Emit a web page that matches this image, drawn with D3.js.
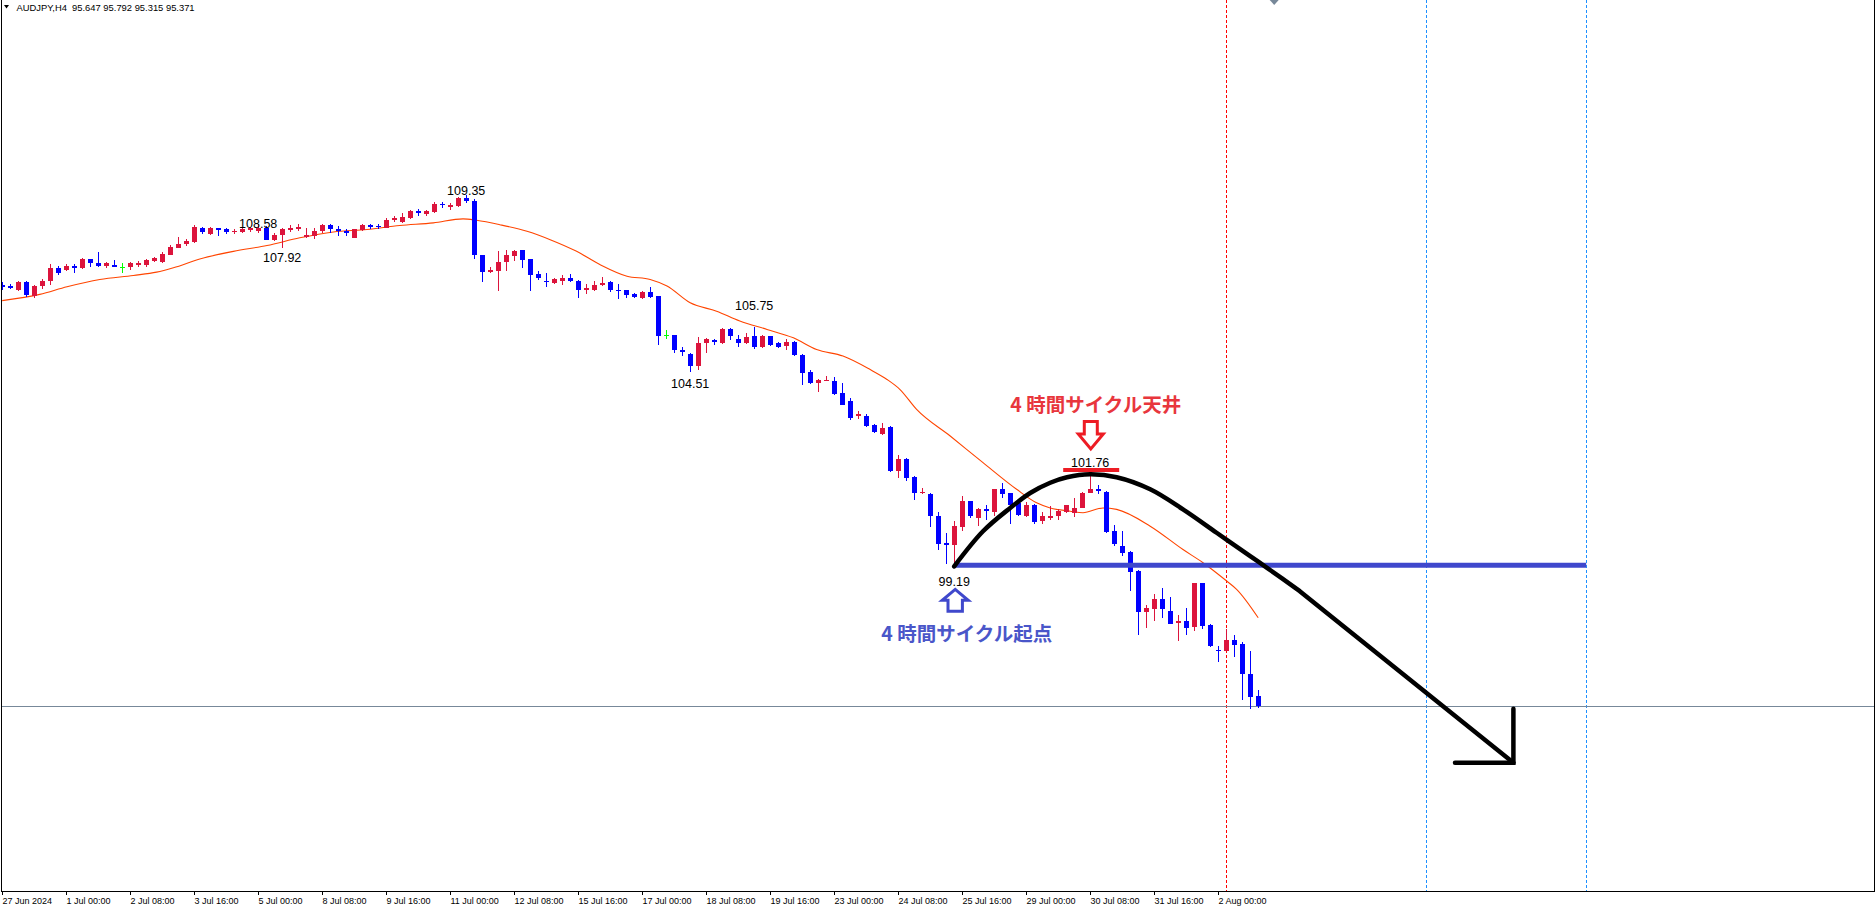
<!DOCTYPE html>
<html><head><meta charset="utf-8">
<script src="https://cdn.jsdelivr.net/npm/d3@7"></script>
<style>html,body{margin:0;padding:0;background:#fff;overflow:hidden}</style>
</head><body><svg id="chart" width="1875" height="907"></svg>
<script>
// ---------------- DATA ----------------
const symbol = "AUDJPY";
const timeframe = "H4";
// H4 candles, first bar 27 Jun 2024 16:00
const opens = [106.91,106.88,106.76,106.99,106.61,106.86,107.00,107.35,107.32,107.41,
107.35,107.61,107.50,107.43,107.45,107.40,107.39,107.45,107.45,107.55,
107.54,107.73,107.92,108.01,108.07,108.46,108.29,108.45,108.44,108.36,
108.36,108.40,108.38,108.45,108.14,108.28,108.40,108.42,108.21,108.24,
108.39,108.54,108.44,108.37,108.19,108.40,108.54,108.51,108.46,108.69,
108.63,108.72,108.92,108.83,108.89,109.12,109.03,109.06,109.27,109.21,
107.71,107.25,107.28,107.52,107.69,107.85,107.60,107.19,107.02,106.96,
107.02,107.08,107.02,106.77,106.76,106.89,106.98,106.77,106.75,106.64,
106.53,106.70,106.59,105.54,105.52,105.13,105.02,104.67,105.31,105.40,
105.31,105.68,105.43,105.31,105.50,105.19,105.50,105.30,105.22,105.33,
104.99,104.52,104.22,104.27,104.26,103.93,103.72,103.30,103.32,103.06,
102.82,103.00,101.80,102.12,101.64,101.19,101.16,100.56,99.82,99.77,
100.26,100.97,100.52,100.75,100.67,101.30,101.19,100.93,100.56,100.88,
100.43,100.52,100.56,100.68,100.66,100.79,101.20,101.30,101.23,100.15,
99.76,99.58,99.06,97.93,98.03,98.30,97.96,97.64,97.68,97.52,
98.72,97.57,96.91,96.87,97.16,97.05,96.23,95.647];
const highs = [106.98,106.92,107.01,107.01,106.90,107.05,107.46,107.41,107.48,107.46,
107.64,107.62,107.81,107.52,107.57,107.50,107.53,107.55,107.62,107.67,
107.80,107.99,108.22,108.16,108.54,108.48,108.49,108.46,108.45,108.44,
108.49,108.48,108.58,108.51,108.33,108.46,108.55,108.56,108.46,108.45,
108.57,108.57,108.51,108.44,108.44,108.56,108.58,108.56,108.74,108.78,
108.86,108.95,108.98,108.95,109.16,109.17,109.15,109.32,109.35,109.26,
107.72,107.40,107.82,107.85,107.87,107.87,107.61,107.27,107.23,107.09,
107.16,107.20,107.03,106.93,107.02,107.11,107.00,106.93,106.77,106.68,
106.73,106.83,106.61,105.66,105.54,105.20,105.04,105.48,105.45,105.43,
105.71,105.71,105.54,105.59,105.75,105.52,105.51,105.33,105.42,105.36,
105.00,104.56,104.31,104.40,104.37,104.22,103.81,103.44,103.35,103.09,
103.12,103.03,102.25,102.16,101.66,101.34,101.19,100.67,100.09,100.43,
101.13,100.98,100.79,100.86,101.31,101.48,101.21,100.98,100.95,100.91,
100.67,100.84,100.75,100.88,101.07,101.22,101.76,101.43,101.25,100.32,
100.15,99.61,99.10,98.14,98.42,98.61,98.35,97.87,98.05,98.72,
98.72,97.60,97.02,97.46,97.30,97.12,96.87,95.792];
const lows = [106.76,106.79,106.74,106.57,106.54,106.79,106.91,107.18,107.27,107.23,
107.34,107.38,107.40,107.36,107.39,107.23,107.32,107.40,107.40,107.53,
107.50,107.71,107.90,107.97,108.05,108.29,108.27,108.25,108.30,108.30,
108.31,108.36,108.33,108.12,108.10,107.92,108.35,108.39,108.19,108.15,
108.33,108.33,108.24,108.24,108.18,108.37,108.42,108.42,108.45,108.63,
108.60,108.71,108.80,108.80,108.87,109.01,108.96,109.04,109.15,107.61,
106.98,107.23,106.73,107.28,107.55,107.37,106.73,107.03,106.85,106.93,
106.91,106.98,106.54,106.66,106.73,106.86,106.71,106.52,106.55,106.55,
106.52,106.55,105.25,105.42,105.04,104.95,104.51,104.58,105.04,105.26,
105.29,105.39,105.20,105.27,105.15,105.17,105.22,105.18,105.13,104.95,
104.15,104.19,103.96,104.26,103.88,103.60,103.21,103.23,103.00,102.85,
102.80,101.77,101.61,101.52,101.02,101.18,100.26,99.65,99.25,99.19,
100.15,100.52,100.29,100.47,100.56,101.05,100.36,100.56,100.55,100.36,
100.36,100.47,100.47,100.66,100.55,100.78,101.19,101.16,100.09,99.74,
99.47,98.51,97.32,97.49,97.69,97.78,97.60,97.14,97.32,97.41,
97.46,96.98,96.56,96.86,96.70,95.54,95.27,95.315];
const closes = [106.84,106.82,106.99,106.63,106.88,107.02,107.35,107.24,107.41,107.36,
107.61,107.50,107.42,107.49,107.40,107.40,107.49,107.49,107.57,107.63,
107.76,107.95,108.03,108.11,108.48,108.36,108.45,108.40,108.36,108.38,
108.44,108.45,108.45,108.14,108.28,108.42,108.45,108.48,108.26,108.39,
108.53,108.42,108.37,108.31,108.42,108.54,108.49,108.49,108.69,108.72,
108.76,108.92,108.86,108.92,109.12,109.08,109.10,109.29,109.19,107.71,
107.25,107.32,107.53,107.71,107.82,107.58,107.16,107.09,107.00,107.07,
107.09,107.00,106.76,106.82,106.91,106.96,106.76,106.75,106.63,106.56,
106.70,106.57,105.50,105.54,105.11,105.06,104.67,105.31,105.41,105.33,
105.68,105.50,105.31,105.48,105.20,105.50,105.25,105.20,105.33,104.98,
104.49,104.22,104.29,104.30,103.90,103.62,103.26,103.35,103.03,102.87,
102.99,101.80,102.12,101.61,101.20,101.22,100.56,99.79,99.78,100.29,
100.97,100.58,100.75,100.70,101.30,101.16,100.88,100.59,100.88,100.40,
100.56,100.58,100.70,100.86,100.79,101.20,101.30,101.25,100.13,99.79,
99.56,99.03,97.93,98.05,98.30,98.03,97.62,97.68,97.50,98.72,
97.55,97.00,96.87,97.16,97.03,96.23,95.61,95.371];

// time-axis labels, one every 8 bars starting at bar 0
const tickLabels = ["27 Jun 2024","1 Jul 00:00","2 Jul 08:00","3 Jul 16:00","5 Jul 00:00",
"8 Jul 08:00","9 Jul 16:00","11 Jul 00:00","12 Jul 08:00","15 Jul 16:00","17 Jul 00:00",
"18 Jul 08:00","19 Jul 16:00","23 Jul 00:00","24 Jul 08:00","25 Jul 16:00","29 Jul 00:00",
"30 Jul 08:00","31 Jul 16:00","2 Aug 00:00"];
const tickStep = 8;

// moving average line
const maBars = [0,4.7,8.1,12.2,16.4,19.3,21.4,24.7,28.9,33.1,37.2,41.4,45.6,49.7,53.9,57.6,59.3,62.2,
65.6,68.5,71.8,74.7,78.1,81,83.1,86,89.3,92.2,95.6,98.9,101.8,105.1,108.5,110.6,112.2,114.3,
118.5,122.6,126.8,129.3,131,133.5,135.1,137.6,139.3,143.5,147.6,150.1,153.1,154.3,157];
const maValues = [106.47,106.64,106.85,107.05,107.16,107.25,107.37,107.61,107.82,107.98,108.19,108.35,108.42,108.53,108.60,108.71,108.67,108.55,
108.37,108.14,107.82,107.46,107.14,107.05,106.87,106.41,106.18,105.91,105.68,105.45,105.13,104.95,104.58,104.31,104.04,103.49,
102.76,102.03,101.30,100.93,100.79,100.70,100.66,100.79,100.75,100.29,99.65,99.29,98.78,98.56,97.78];

// swing high / low price labels
const swingBars = [58, 32, 94, 136, 35, 86, 119];
const swingValues = [109.35, 108.58, 105.75, 101.76, 107.92, 104.51, 99.19];

// cycle annotation: start (low) and top
const cycleStartBar = 119, cycleStartPrice = 99.19;
const cycleTopBar = 136, cycleTopPrice = 101.76;
const cycleLineEndBar = 198;
const cycleStartLabel = "4 時間サイクル起点";
const cycleTopLabel = "4 時間サイクル天井";

// hand-drawn projection curve
const curveBars = [119,122.6,126,128.5,131,133.1,136,139.3,143.5,147.6,151.8,156,158.1,162.2];
const curvePrices = [99.19,100.15,100.79,101.20,101.48,101.63,101.71,101.63,101.30,100.75,100.11,99.47,99.15,98.51];
const tailBars = [162.2, 188.9];
const tailPrices = [98.51, 93.81];
const arrowHeadBars = [181.6, 188.9, 188.9];
const arrowHeadPrices = [93.81, 93.81, 95.29];

// vertical marker lines
const redVLineBars = [153];
const blueVLineBars = [178, 198];
const topMarkerBar = 159;

// ---------------- CHART ----------------
const W = 1875, H = 907, plotBottom = 891, plotLeft = 1, plotRight = 1874;
const svg = d3.select("#chart");
const x = d3.scaleLinear().domain([0, 200]).range([2.2, 1602.2]);
const y = d3.scaleLinear().domain([90.295, 114.706]).range([plotBottom, 0]);
const n = closes.length;

svg.append("rect").attr("width", W).attr("height", H).attr("fill", "#fff");
svg.append("clipPath").attr("id", "clip").append("rect")
  .attr("x", plotLeft + 1).attr("y", 0).attr("width", plotRight - plotLeft - 1).attr("height", plotBottom);
const plot = svg.append("g").attr("clip-path", "url(#clip)");

// vertical dotted lines
const vx = b => Math.round(x(b)) + 0.5;
plot.selectAll(".vr").data(redVLineBars).join("line")
  .attr("x1", vx).attr("x2", vx).attr("y1", 0).attr("y2", plotBottom)
  .attr("stroke", "#ff0000").attr("stroke-width", 1).attr("stroke-dasharray", "3,2");
plot.selectAll(".vb").data(blueVLineBars).join("line")
  .attr("x1", vx).attr("x2", vx).attr("y1", 0).attr("y2", plotBottom)
  .attr("stroke", "#1e90ff").attr("stroke-width", 1).attr("stroke-dasharray", "3,2");

// bid line
const bidY = Math.round(y(closes[n - 1])) + 0.5;
plot.append("line").attr("x1", plotLeft).attr("x2", plotRight).attr("y1", bidY).attr("y2", bidY)
  .attr("stroke", "#778899").attr("stroke-width", 1);

// moving average
plot.append("path")
  .attr("d", d3.line().x((d, i) => x(maBars[i])).y((d) => y(d)).curve(d3.curveMonotoneX)(maValues))
  .attr("fill", "none").attr("stroke", "#ff4500").attr("stroke-width", 1.1);

// candles
const bars = d3.range(n).map(i => ({i, o: opens[i], h: highs[i], l: lows[i], c: closes[i]}));
const colorOf = d => d.c > d.o ? "#dc143c" : (d.c < d.o ? "#0000ff" : "#00ff00");
const cg = plot.append("g");
bars.forEach(d => {
  const cx = Math.round(x(d.i));
  const col = colorOf(d);
  const yh = Math.round(y(d.h)), yl = Math.round(y(d.l));
  cg.append("rect").attr("x", cx).attr("y", yh).attr("width", 1).attr("height", Math.max(1, yl - yh)).attr("fill", col);
  const yt = Math.round(y(Math.max(d.o, d.c))), yb = Math.round(y(Math.min(d.o, d.c)));
  cg.append("rect").attr("x", cx - 2).attr("y", yt).attr("width", 5).attr("height", Math.max(1, yb - yt)).attr("fill", col);
});

// swing labels
const swingDy = [-0.5, 4.7, -16.9, -5.2, 14, 16.1, 19.4];
plot.selectAll(".sw").data(swingValues).join("text")
  .attr("x", (d, i) => x(swingBars[i])).attr("y", (d, i) => y(d) + swingDy[i])
  .attr("text-anchor", "middle").attr("font-family", "Liberation Sans, Arial, sans-serif")
  .attr("font-size", 12.5).attr("fill", "#000").text(d => d.toFixed(2));

// cycle horizontal line
const sx = x(cycleStartBar), sy = y(cycleStartPrice) - 1;
plot.append("line").attr("x1", sx).attr("x2", x(cycleLineEndBar)).attr("y1", sy).attr("y2", sy)
  .attr("stroke", "#3f48cc").attr("stroke-width", 5);

// projection curve
const curvePts = curveBars.map((b, i) => [x(b), y(curvePrices[i])]);
const curvePath = d3.line().curve(d3.curveCatmullRom.alpha(0.5))(curvePts);
const tailPath = d3.line()(tailBars.map((b, i) => [x(b), y(tailPrices[i])]));
plot.append("path")
  .attr("d", curvePath + tailPath.replace(/^M/, "L"))
  .attr("fill", "none").attr("stroke", "#000").attr("stroke-width", 4.5).attr("stroke-linecap", "round").attr("stroke-linejoin", "round");
plot.append("path")
  .attr("d", d3.line().x((d, i) => x(arrowHeadBars[i])).y(d => y(d))(arrowHeadPrices))
  .attr("fill", "none").attr("stroke", "#000").attr("stroke-width", 4.5).attr("stroke-linecap", "round").attr("stroke-linejoin", "miter");

// top marker line
const tx = x(cycleTopBar), ty = y(cycleTopPrice);
plot.append("line").attr("x1", tx - 27).attr("x2", tx + 29).attr("y1", ty - 2.5).attr("y2", ty - 2.5)
  .attr("stroke", "#ed1c24").attr("stroke-width", 4);

// hollow arrows
const upArrow = (cx, top) => {
  const pts = [[cx, top + 1.5], [cx + 13, top + 12.4], [cx + 7.2, top + 12.4], [cx + 7.2, top + 23.5],
    [cx - 7.2, top + 23.5], [cx - 7.2, top + 12.4], [cx - 13, top + 12.4]];
  return "M" + pts.map(p => p.join(",")).join("L") + "Z";
};
const downArrow = (cx, top) => {
  const pts = [[cx - 6.5, top + 1.5], [cx + 6.5, top + 1.5], [cx + 6.5, top + 14], [cx + 12.5, top + 14],
    [cx, top + 29], [cx - 12.5, top + 14], [cx - 6.5, top + 14]];
  return "M" + pts.map(p => p.join(",")).join("L") + "Z";
};
plot.append("path").attr("d", upArrow(sx + 1, sy + 22.5))
  .attr("fill", "#fff").attr("stroke", "#3f48cc").attr("stroke-width", 3).attr("stroke-linejoin", "miter");
plot.append("path").attr("d", downArrow(tx + 0.6, ty - 52.5))
  .attr("fill", "#fff").attr("stroke", "#ed1c24").attr("stroke-width", 3).attr("stroke-linejoin", "miter");

// annotation texts
plot.append("text").attr("x", sx + 12.5).attr("y", sy + 75.5).attr("text-anchor", "middle")
  .attr("font-family", "Noto Sans CJK JP, sans-serif").attr("font-weight", 700).attr("font-size", 19.5)
  .attr("fill", "#4a56c9").text(cycleStartLabel);
plot.append("text").attr("x", tx + 5.6).attr("y", ty - 61).attr("text-anchor", "middle")
  .attr("font-family", "Noto Sans CJK JP, sans-serif").attr("font-weight", 700).attr("font-size", 19.5)
  .attr("fill", "#e8363d").text(cycleTopLabel);

// grey marker at top edge
const mx = x(topMarkerBar);
plot.append("path").attr("d", `M${mx - 4.5},0L${mx + 4.5},0L${mx},5Z`).attr("fill", "#778899");

// frame + time axis
svg.append("line").attr("x1", plotLeft + 0.5).attr("x2", plotLeft + 0.5).attr("y1", 0).attr("y2", plotBottom + 1)
  .attr("stroke", "#000");
svg.append("line").attr("x1", plotRight + 0.5).attr("x2", plotRight + 0.5).attr("y1", 0).attr("y2", plotBottom + 1)
  .attr("stroke", "#000");
svg.append("line").attr("x1", plotLeft).attr("x2", plotRight + 1).attr("y1", plotBottom + 0.5).attr("y2", plotBottom + 0.5)
  .attr("stroke", "#000");
const ax = svg.append("g");
tickLabels.forEach((t, k) => {
  const px = Math.round(x(k * tickStep)) + 0.5;
  ax.append("line").attr("x1", px).attr("x2", px).attr("y1", plotBottom).attr("y2", plotBottom + 4).attr("stroke", "#000");
  ax.append("text").attr("x", px).attr("y", 903.7).attr("font-family", "Liberation Sans, Arial, sans-serif")
    .attr("font-size", 9).attr("fill", "#000").text(t);
});

// header
svg.append("path").attr("d", "M4,5L9,5L6.5,8.5Z").attr("fill", "#000");
svg.append("text").attr("x", 16.5).attr("y", 10.7).attr("font-family", "Liberation Sans, Arial, sans-serif")
  .attr("font-size", 9.4).attr("fill", "#000").attr("xml:space", "preserve")
  .text(`${symbol},${timeframe}  ${opens[n-1].toFixed(3)} ${highs[n-1].toFixed(3)} ${lows[n-1].toFixed(3)} ${closes[n-1].toFixed(3)}`);
</script>
</body></html>
